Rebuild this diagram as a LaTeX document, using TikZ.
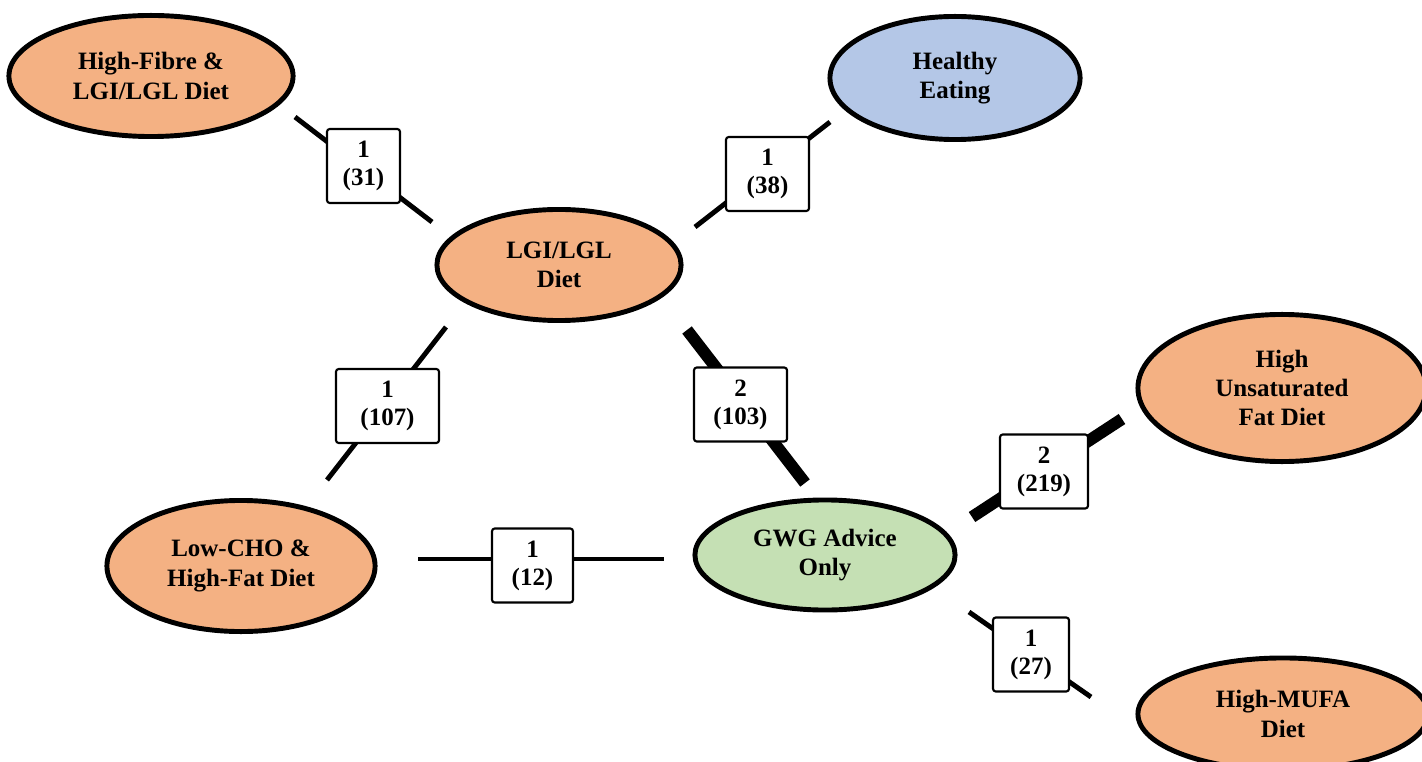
\documentclass[tikz,border=0pt]{standalone}
\usepackage{fontspec}
\setmainfont{Liberation Serif}
\usetikzlibrary{shapes.geometric}
\definecolor{dietorange}{HTML}{F4B183}
\definecolor{eatblue}{HTML}{B4C7E7}
\definecolor{advgreen}{HTML}{C5E0B4}

\begin{document}
\begin{tikzpicture}[x=0.01cm,y=-0.01cm]
  \tikzset{ diet/.style={ellipse,draw,line width=1.4pt,fill=dietorange,inner sep=0pt,align=center,
      font=\fontsize{7.1}{8.3}\selectfont\bfseries},
    conn/.style={line width=1.4pt},
    strong/.style={line width=3.4pt},
    nbox/.style={draw,line width=0.6pt,fill=white,rounded corners=0.8pt,minimum height=0.74cm,
      inner sep=0pt,align=center,font=\fontsize{7.1}{8}\selectfont\bfseries},
  }
  \clip (0,0) rectangle (1422,761);

  % interventions
  \node[diet, minimum width=2.84cm, minimum height=1.21cm] (hf) at (151,76) {High-Fibre \&\\LGI/LGL Diet};
  \node[diet, fill=eatblue, minimum width=2.50cm, minimum height=1.23cm] (he) at (955,78) {Healthy\\Eating};
  \node[diet, minimum width=2.44cm, minimum height=1.11cm] (lgi) at (559,265) {LGI/LGL\\Diet};
  \node[diet, minimum width=2.68cm, minimum height=1.31cm] (lc) at (241,566) {Low-CHO \&\\High-Fat Diet};
  \node[diet, fill=advgreen, minimum width=2.60cm, minimum height=1.10cm] (gwg) at (825,555) {GWG Advice\\Only};
  \node[diet, minimum width=2.88cm, minimum height=1.47cm] (hu) at (1282,388) {High\\Unsaturated\\Fat Diet};
  \node[diet, minimum width=2.90cm, minimum height=1.12cm] (mufa) at (1283,714) {High-MUFA\\Diet};

  % connector ends
  \coordinate (hf-o) at (295,117);    \coordinate (lgi-hf) at (432,222);
  \coordinate (he-o) at (830,122);    \coordinate (lgi-he) at (695,227);
  \coordinate (lgi-lc) at (446,327);  \coordinate (lc-o) at (327,480);
  \coordinate (lgi-gwg) at (687,330); \coordinate (gwg-lgi) at (805,483);
  \coordinate (lc-gwg) at (418,559);  \coordinate (gwg-lc) at (664,559);
  \coordinate (gwg-hu) at (972,517);  \coordinate (hu-o) at (1122,419);
  \coordinate (gwg-mufa) at (969,612); \coordinate (mufa-o) at (1091,697);

  \draw[conn] (hf-o) -- (lgi-hf);
  \draw[conn] (he-o) -- (lgi-he);
  \draw[conn] (lgi-lc) -- (lc-o);
  \draw[strong] (lgi-gwg) -- (gwg-lgi);
  \draw[conn] (lc-gwg) -- (gwg-lc);
  \draw[strong] (gwg-hu) -- (hu-o);
  \draw[conn] (gwg-mufa) -- (mufa-o);

  % number of studies (participants)
  \node[nbox, minimum width=0.73cm] (b1) at (363.5,166) {1\\(31)};
  \node[nbox, minimum width=0.83cm] (b2) at (767.5,174) {1\\(38)};
  \node[nbox, minimum width=1.03cm] (b3) at (387.5,406) {1\\(107)};
  \node[nbox, minimum width=0.93cm] (b4) at (740.5,404.5) {2\\(103)};
  \node[nbox, minimum width=0.81cm] (b5) at (532.5,565.5) {1\\(12)};
  \node[nbox, minimum width=0.88cm] (b6) at (1044,471.5) {2\\(219)};
  \node[nbox, minimum width=0.76cm] (b7) at (1031,654.5) {1\\(27)};
\end{tikzpicture}
\end{document}
